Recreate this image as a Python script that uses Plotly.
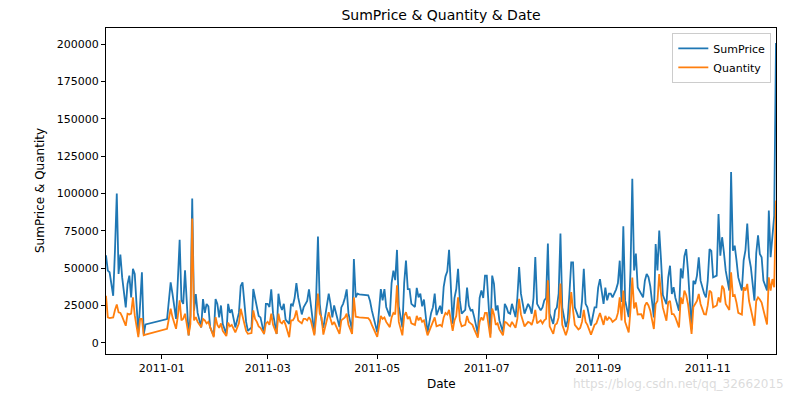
import datetime as dt
import plotly.graph_objects as go

# ---- data ----
# trading calendar: (year, month, first day, last day, skipped days); Saturdays are not trading days
months = [
    (2010, 12, 1, 23, ()),
    (2011, 1, 4, 31, ()),
    (2011, 2, 1, 28, ()),
    (2011, 3, 1, 31, ()),
    (2011, 4, 1, 30, (22, 24, 25)),
    (2011, 5, 1, 31, (2, 30)),
    (2011, 6, 1, 30, ()),
    (2011, 7, 1, 31, ()),
    (2011, 8, 1, 31, (29,)),
    (2011, 9, 1, 30, ()),
    (2011, 10, 1, 31, ()),
    (2011, 11, 1, 30, ()),
    (2011, 12, 1, 9, ()),
]

sum_2010_12 = [58600, 48300, 47200, 31500, 62000, 100000, 46100, 59100, 43800, 23700,
               39400, 45000, 30400, 49500, 46100, 5800, 26000, 47200, 5500, 12300]
qty_2010_12 = [31500, 17000, 16500, 17000, 22000, 25700, 20400, 20000, 17500, 11400,
               19500, 19000, 19500, 30400, 18500, 3800, 16000, 16000, 5000, 5500]

sum_2011_01 = [15900, 28000, 40500, 33000, 16000, 42000, 69000, 28400, 26000, 48500,
               5000, 18000, 96600, 21500, 32600, 20000, 10300, 29300, 20000, 26000,
               24400, 10300, 4700, 29300]
qty_2011_01 = [9400, 16000, 22800, 17200, 9400, 18000, 28400, 15000, 16100, 19500,
               5000, 12700, 83200, 15000, 17200, 14000, 10500, 16000, 15000, 13000,
               14000, 10500, 3800, 17200]

sum_2011_02 = [26000, 17000, 25000, 12600, 5800, 26100, 20000, 22400, 17000, 10300,
               20000, 38000, 40500, 26100, 14000, 8000, 10300, 36000, 29300, 24000,
               18000, 17000, 5800, 26100]
qty_2011_02 = [12000, 10000, 13000, 8000, 4500, 13500, 11000, 12000, 9500, 7000,
               13000, 22800, 18000, 13000, 8000, 6000, 6500, 21700, 16000, 14000,
               11000, 10000, 6000, 13000]

sum_2011_03 = [26100, 24000, 35800, 19500, 6000, 32900, 25000, 22000, 26100, 15500,
               12700, 26100, 25000, 30000, 40000, 30400, 19000, 23700, 26100, 28000,
               35800, 26100, 6000, 30000, 71100, 26100, 15000]
qty_2011_03 = [14000, 12000, 19500, 12000, 6000, 19500, 14000, 13000, 15000, 12000,
               3800, 15000, 15000, 17000, 21700, 15000, 13000, 16000, 16000, 15000,
               17200, 15000, 5000, 17000, 32900, 19500, 17000]

sum_2011_04 = [10000, 25000, 32900, 26100, 17000, 25000, 20000, 10500, 23700, 26100,
               30000, 35800, 19500, 8300, 56100, 30400, 32900, 32400, 31800, 28000,
               21700, 16000]
qty_2011_04 = [5500, 15000, 20500, 16000, 12000, 14000, 11000, 6000, 15000, 16000,
               17000, 19500, 12000, 6000, 30400, 17500, 17500, 17000, 16500, 15000,
               12000, 9000]

sum_2011_05 = [7000, 36000, 28400, 36000, 24000, 17700, 40000, 48300, 42000, 62200,
               24400, 10300, 40000, 55000, 36000, 36000, 26100, 24000, 36800, 30400,
               33000, 24400, 29000, 6900, 20000]
qty_2011_05 = [4000, 18000, 16000, 17000, 14000, 10500, 17000, 20000, 19000, 38500,
               14000, 5000, 18000, 20500, 16000, 17500, 13000, 12000, 18000, 15000,
               17000, 14000, 15000, 5000, 11000]

sum_2011_06 = [23700, 32900, 18500, 24800, 19500, 37500, 44500, 47900, 62200, 12700,
               30000, 36000, 49500, 28400, 19500, 22000, 37000, 25000, 21700, 22000,
               17200, 6000, 30000, 35000, 30000, 45000]
qty_2011_06 = [13000, 17000, 11000, 12000, 11000, 17000, 20000, 19000, 22000, 8000,
               15000, 18000, 30400, 15000, 11000, 12000, 18000, 14000, 13000, 12000,
               9000, 3500, 14000, 17000, 15000, 20000]

sum_2011_07 = [45000, 6000, 45000, 39400, 21700, 25000, 15000, 7000, 26100, 23700,
               20000, 19500, 26100, 17200, 30000, 50800, 32900, 25000, 19500, 26100,
               23700, 19500, 30000, 57500, 26100, 21700]
qty_2011_07 = [20000, 3500, 23000, 19000, 12000, 13000, 9000, 5000, 14000, 13500,
               12000, 11000, 14000, 10000, 16000, 29500, 19000, 14000, 11000, 14000,
               13500, 12000, 16000, 22000, 13000, 15000]

sum_2011_08 = [23700, 28400, 30000, 66500, 19500, 12700, 21700, 23700, 32900, 73200,
               23700, 10500, 15000, 32900, 53800, 53800, 23700, 17200, 17200, 28000,
               49500, 26100, 23700, 11600, 23700, 23700]
qty_2011_08 = [13000, 15000, 16000, 41800, 11000, 6000, 12000, 13000, 17000, 39600,
               12000, 5000, 9000, 17000, 34000, 22000, 12000, 9000, 10000, 14000,
               22000, 14000, 12000, 5500, 12000, 13000]

sum_2011_09 = [37000, 42600, 26100, 37000, 28400, 32900, 32900, 30400, 35800, 40000,
               55000, 27300, 78000, 28400, 17200, 48500, 109800, 48500, 59700, 37000,
               32700, 30400, 41600, 46100, 44000, 38000]
qty_2011_09 = [17000, 20000, 12000, 18000, 15000, 17000, 16000, 14000, 16000, 20000,
               30400, 15000, 35000, 14000, 7000, 22000, 43700, 23000, 27000, 19000,
               19200, 15900, 24800, 27100, 25000, 21500]

sum_2011_10 = [17000, 66200, 48500, 75100, 55300, 32000, 25800, 43800, 51600, 32700,
               37200, 30000, 21500, 49800, 43100, 58000, 62700, 48300, 9000, 41600,
               39400, 45000, 57300, 41600, 33000, 30400]
qty_2011_10 = [9200, 26000, 28000, 46100, 32700, 23700, 14800, 27100, 28100, 19200,
               19200, 17000, 10300, 30400, 26000, 34900, 32000, 26000, 6000, 24000,
               26000, 28000, 32700, 26000, 19200, 19000]

sum_2011_11 = [41600, 62700, 61600, 43800, 45000, 86300, 58400, 70700, 60500, 48300,
               35000, 114300, 61600, 65000, 55300, 43800, 35000, 55300, 62000, 79800,
               57300, 50600, 28300, 60000, 72000, 59500]
qty_2011_11 = [25000, 34900, 33800, 23700, 25000, 30400, 27100, 38300, 36000, 26000,
               22000, 47200, 31500, 32000, 27000, 20100, 18900, 37200, 35000, 39400,
               28000, 22000, 11400, 28000, 30400, 29000]

sum_2011_12 = [57300, 41600, 35000, 88500, 57300, 70700, 85000, 200800]
qty_2011_12 = [27000, 22000, 12300, 43800, 34900, 42700, 37200, 95300]

sum_by_month = [sum_2010_12, sum_2011_01, sum_2011_02, sum_2011_03, sum_2011_04,
                sum_2011_05, sum_2011_06, sum_2011_07, sum_2011_08, sum_2011_09,
                sum_2011_10, sum_2011_11, sum_2011_12]
qty_by_month = [qty_2010_12, qty_2011_01, qty_2011_02, qty_2011_03, qty_2011_04,
                qty_2011_05, qty_2011_06, qty_2011_07, qty_2011_08, qty_2011_09,
                qty_2011_10, qty_2011_11, qty_2011_12]

y_tick_vals = [0, 25000, 50000, 75000, 100000, 125000, 150000, 175000, 200000]
y_tick_text = ["0", "25000", "50000", "75000", "100000", "125000", "150000", "175000", "200000"]
x_tick_vals = ["2011-01-01", "2011-03-01", "2011-05-01", "2011-07-01", "2011-09-01", "2011-11-01"]
x_tick_text = ["2011-01", "2011-03", "2011-05", "2011-07", "2011-09", "2011-11"]

# ---- build series ----
dates, sumprice, quantity = [], [], []
for (y, m, first, last, skip), s_vals, q_vals in zip(months, sum_by_month, qty_by_month):
    days = []
    for d in range(first, last + 1):
        day = dt.date(y, m, d)
        if day.weekday() == 5 or d in skip:
            continue
        days.append(day.isoformat())
    assert len(days) == len(s_vals) == len(q_vals), (y, m, len(days), len(s_vals), len(q_vals))
    dates += days
    sumprice += s_vals
    quantity += q_vals

BLUE = "#1f77b4"
ORANGE = "#ff7f0e"
FONT = "DejaVu Sans"

W, H = 796, 396
L, R, T, B = 106, 20, 28, 42
PW, PH = W - L - R, H - T - B

fig = go.Figure()
fig.add_trace(go.Scatter(x=dates, y=sumprice, mode="lines", name="SumPrice",
                         line=dict(color=BLUE, width=1.8)))
fig.add_trace(go.Scatter(x=dates, y=quantity, mode="lines", name="Quantity",
                         line=dict(color=ORANGE, width=1.8)))

axis_common = dict(showline=True, mirror=True, linecolor="black", linewidth=1,
                   ticks="outside", ticklen=4, tickcolor="black", showgrid=False,
                   zeroline=False, automargin=False,
                   tickfont=dict(family=FONT, size=11, color="black"))

fig.update_layout(
    width=W, height=H,
    margin=dict(l=L, r=R, t=T, b=B, autoexpand=False),
    paper_bgcolor="white", plot_bgcolor="white",
    font=dict(family=FONT, size=11, color="black"),
    title=dict(text="SumPrice & Quantity & Date", xref="paper", x=0.5,
               xanchor="center", yref="container", y=1 - 15 / H, yanchor="middle",
               font=dict(family=FONT, size=14, color="black")),
    showlegend=True,
    legend=dict(x=0.993, y=0.985, xanchor="right", yanchor="top",
                bgcolor="rgba(255,255,255,0.85)", bordercolor="#cccccc", borderwidth=1,
                font=dict(family=FONT, size=11, color="black"),
                tracegroupgap=0, itemwidth=30),
    xaxis=dict(range=["2010-12-01", "2011-12-09"], tickvals=x_tick_vals, ticktext=x_tick_text,
               **axis_common),
    yaxis=dict(range=[-7500, 210800], tickvals=y_tick_vals, ticktext=y_tick_text,
               **axis_common),
)

# axis titles as annotations at the reference positions
fig.add_annotation(text="Date", xref="paper", yref="paper", x=0.5, y=-(384 - (T + PH)) / PH,
                   xanchor="center", yanchor="middle", showarrow=False,
                   font=dict(family=FONT, size=12, color="black"))
fig.add_annotation(text="SumPrice & Quantity", xref="paper", yref="paper",
                   x=-(L - 40) / PW, y=0.5, xanchor="center", yanchor="middle",
                   textangle=-90, showarrow=False,
                   font=dict(family=FONT, size=12, color="black"))

fig.add_annotation(text="https://blog.csdn.net/qq_32662015", xref="paper", yref="paper",
                   x=(786 - L) / PW, y=-(384 - (T + PH)) / PH, xanchor="right", yanchor="middle",
                   showarrow=False, font=dict(family=FONT, size=12, color="rgba(190,190,190,0.55)"))

fig.write_html("out.html",
               config={"displayModeBar": False},
               post_script="document.body.style.margin='0px';document.body.style.overflow='hidden';")
